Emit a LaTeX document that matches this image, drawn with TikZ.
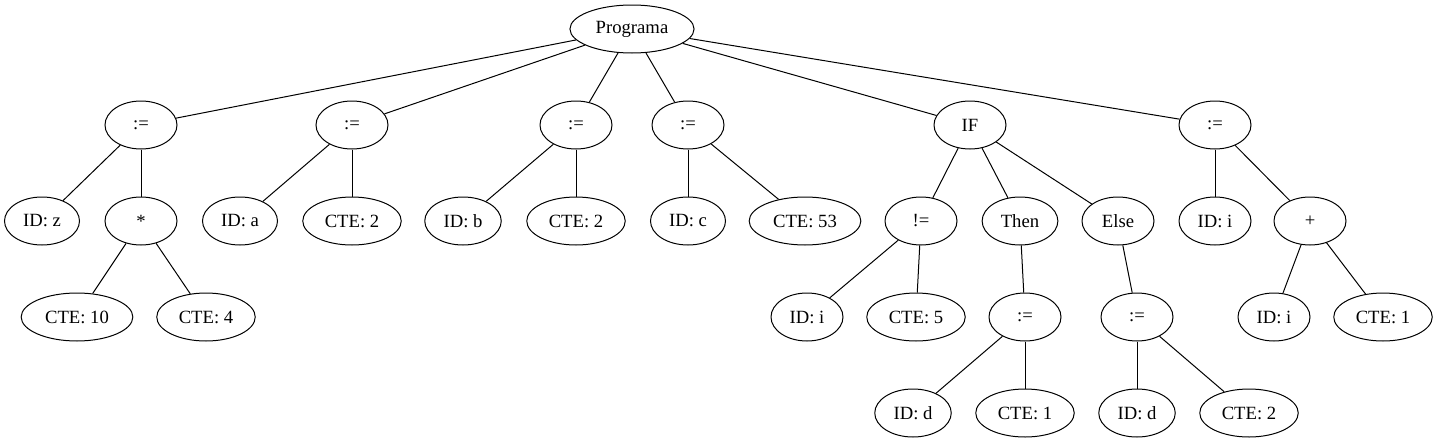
\documentclass[tikz,border=0pt]{standalone}
\usepackage{fontspec}
\setmainfont{Liberation Serif}
\usepackage{tikz}
\usetikzlibrary{shapes.geometric}

\begin{document}
\begin{tikzpicture}[
            x=0.75pt, y=-0.75pt,
            tnode/.style={ellipse, draw, line width=0.75pt, minimum width=54pt, minimum height=36pt, inner xsep=5.7pt, inner ysep=3pt, font=\fontsize{14}{16}\selectfont},
            link/.style={line width=0.75pt}
        ]
            \useasboundingbox (0,0) rectangle (1439,443);

            % Root
            \node[tnode] (prog) at (632,29) {Programa};

            % Statements
            \node[tnode] (asig1) at (141,125) {:=};
            \node[tnode] (asig2) at (352,125) {:=};
            \node[tnode] (asig3) at (576,125) {:=};
            \node[tnode] (asig4) at (688,125) {:=};
            \node[tnode] (if) at (970,125) {IF};
            \node[tnode] (asig5) at (1215,125) {:=};

            % Second level
            \node[tnode] (idz) at (42,221) {ID: z};
            \node[tnode] (mult) at (141,221) {*};
            \node[tnode] (ida) at (240,221) {ID: a};
            \node[tnode] (cte2a) at (352,221) {CTE: 2};
            \node[tnode] (idb) at (463,221) {ID: b};
            \node[tnode] (cte2b) at (576,221) {CTE: 2};
            \node[tnode] (idc) at (688,221) {ID: c};
            \node[tnode] (cte53) at (805,221) {CTE: 53};
            \node[tnode] (neq) at (921,221) {!=};
            \node[tnode] (then) at (1020,221) {Then};
            \node[tnode] (else) at (1118,221) {Else};
            \node[tnode] (idi1) at (1215,221) {ID: i};
            \node[tnode] (plus) at (1310,221) {+};

            % Third level
            \node[tnode] (cte10) at (77,317) {CTE: 10};
            \node[tnode] (cte4) at (206,317) {CTE: 4};
            \node[tnode] (idi2) at (807,317) {ID: i};
            \node[tnode] (cte5) at (916,317) {CTE: 5};
            \node[tnode] (asigthen) at (1025,317) {:=};
            \node[tnode] (asigelse) at (1137,317) {:=};
            \node[tnode] (idi3) at (1274,317) {ID: i};
            \node[tnode] (cte1a) at (1383,317) {CTE: 1};

            % Fourth level
            \node[tnode] (idd1) at (913,413) {ID: d};
            \node[tnode] (cte1b) at (1025,413) {CTE: 1};
            \node[tnode] (idd2) at (1137,413) {ID: d};
            \node[tnode] (cte2c) at (1249,413) {CTE: 2};

            % Edges from root
            \draw[link] (prog) -- (asig1);
            \draw[link] (prog) -- (asig2);
            \draw[link] (prog) -- (asig3);
            \draw[link] (prog) -- (asig4);
            \draw[link] (prog) -- (if);
            \draw[link] (prog) -- (asig5);

            % Edges of the statements
            \draw[link] (asig1) -- (idz);
            \draw[link] (asig1) -- (mult);
            \draw[link] (mult) -- (cte10);
            \draw[link] (mult) -- (cte4);
            \draw[link] (asig2) -- (ida);
            \draw[link] (asig2) -- (cte2a);
            \draw[link] (asig3) -- (idb);
            \draw[link] (asig3) -- (cte2b);
            \draw[link] (asig4) -- (idc);
            \draw[link] (asig4) -- (cte53);

            % IF branch
            \draw[link] (if) -- (neq);
            \draw[link] (if) -- (then);
            \draw[link] (if) -- (else);
            \draw[link] (neq) -- (idi2);
            \draw[link] (neq) -- (cte5);
            \draw[link] (then) -- (asigthen);
            \draw[link] (else) -- (asigelse);
            \draw[link] (asigthen) -- (idd1);
            \draw[link] (asigthen) -- (cte1b);
            \draw[link] (asigelse) -- (idd2);
            \draw[link] (asigelse) -- (cte2c);

            % Last statement
            \draw[link] (asig5) -- (idi1);
            \draw[link] (asig5) -- (plus);
            \draw[link] (plus) -- (idi3);
            \draw[link] (plus) -- (cte1a);
        \end{tikzpicture}
\end{document}
